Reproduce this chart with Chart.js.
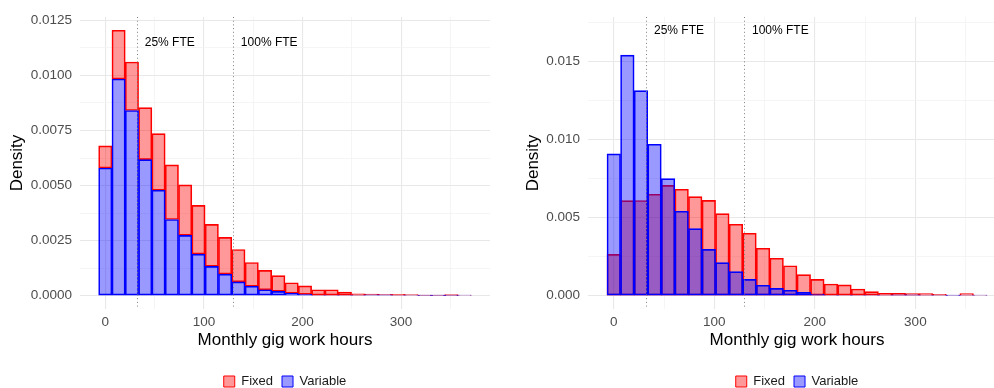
<!DOCTYPE html>
<html>
<head>
<meta charset="utf-8">
<script src="https://cdn.jsdelivr.net/npm/chart.js@4.4.1/dist/chart.umd.min.js"></script>
<style>
  body { margin: 0; background: #fff; }
  .wrap { display: flex; width: 994px; height: 388px; }
  .painel { width: 497px; height: 388px; overflow: hidden; }
</style>
</head>
<body>
<div class="wrap">
  <div class="painel"><canvas id="graficoEsq" width="497" height="388"></canvas></div>
  <div class="painel"><canvas id="graficoDir" width="512" height="388"></canvas></div>
</div>
<script>
// centros dos bins (horas)
var binCenters = [0, 13.5, 27, 40.5, 54, 67.5, 81, 94.5, 108, 121.5, 135, 148.5, 162, 175.5,
                  189, 202.5, 216, 229.5, 243, 256.5, 270, 283.5, 297, 310.5, 324, 337.5, 351, 364.5];
var binWidth = 13.5;

// painel esquerdo (empilhado): parte Variable embaixo, Fixed em cima
var leftVariable = [0.0058, 0.00984, 0.00841, 0.00618, 0.00479, 0.00346, 0.00274, 0.00189, 0.00133, 0.00098,
                    0.00063, 0.00043, 0.00027, 0.0002, 0.00011, 0.00006, 0.00003, 0.00003, 0.00003, 0.00002,
                    0.00004, 0.00004, 0.00003, 0.00002, 0.00001, 0.00001, 0.00001, 0.00002];
var leftFixed = [0.001, 0.00221, 0.0022, 0.00236, 0.00257, 0.00248, 0.00229, 0.00221, 0.00191, 0.00167,
                 0.00147, 0.00108, 0.00088, 0.00071, 0.00048, 0.00039, 0.00024, 0.00024, 0.00014, 0.00007,
                 0.00003, 0.00002, 0.00003, 0.00003, 0.00002, 0.00002, 0.00004, 0.00001];

// painel direito (sobreposto)
var rightVariable = [0.00908, 0.01541, 0.01314, 0.0097, 0.0075, 0.00541, 0.0043, 0.00297, 0.00212, 0.00154,
                     0.00105, 0.00067, 0.00047, 0.00035, 0.00022, 0.00011, 0.00004, 0.00004, 0.00004, 0.00003,
                     0.00003, 0.00006, 0.00006, 0.00003, 0.00003, 0.00002, 0.00003, 0.00003];
var rightFixed = [0.00265, 0.00609, 0.0061, 0.0065, 0.00707, 0.00682, 0.00635, 0.00611, 0.00526, 0.00458,
                  0.004, 0.00304, 0.0024, 0.00192, 0.00135, 0.00105, 0.00075, 0.0007, 0.00043, 0.00026,
                  0.00015, 0.00015, 0.00013, 0.00013, 0.00009, 0.00004, 0.00013, 0.00004];

var fteLines = [32.5, 130];
var fteLabels = ['25% FTE', '100% FTE'];
var fteLabelOffset = 7.5;

var xMajorTicks = [0, 100, 200, 300];
var xMinorTicks = [50, 150, 250, 350];
var leftYMajor = [0, 0.0025, 0.005, 0.0075, 0.01, 0.0125];
var leftYMinor = [0.00125, 0.00375, 0.00625, 0.00875, 0.01125];
var rightYMajor = [0, 0.005, 0.01, 0.015];
var rightYMinor = [0.0025, 0.0075, 0.0125, 0.0175];

var FONTE = '"Liberation Sans", Arial, Helvetica, sans-serif';
var VERMELHO = 'rgba(255,0,0,0.4)';
var AZUL = 'rgba(0,0,255,0.4)';

function isIn(v, lista) {
    for (var i = 0; i < lista.length; i++) {
        if (Math.abs(lista[i] - v) < 1e-9) return true;
    }
    return false;
}

function pontos(valores) {
    return valores.map(function(v, i) { return { x: binCenters[i], y: v }; });
}

// linhas pontilhadas + rótulos FTE
var ftePlugin = {
    id: 'fte',
    afterDatasetsDraw: function(chart, args, opts) {
        var ctx = chart.ctx, area = chart.chartArea, xs = chart.scales.x, ys = chart.scales.y;
        ctx.save();
        ctx.strokeStyle = '#7f7f7f';
        ctx.lineWidth = 1;
        ctx.setLineDash([1, 2.7]);
        fteLines.forEach(function(h) {
            var px = Math.round(xs.getPixelForValue(h)) + 0.5;
            ctx.beginPath();
            ctx.moveTo(px, area.top);
            ctx.lineTo(px, area.bottom);
            ctx.stroke();
        });
        ctx.setLineDash([]);
        ctx.fillStyle = '#000';
        ctx.font = '12px ' + FONTE;
        ctx.textAlign = 'left';
        ctx.textBaseline = 'middle';
        fteLines.forEach(function(h, i) {
            ctx.fillText(fteLabels[i], xs.getPixelForValue(h + fteLabelOffset), ys.getPixelForValue(opts.labelY));
        });
        ctx.restore();
    }
};

function montaGrafico(id, cfg) {
    var lo = binCenters[0] - binWidth / 2;
    var hi = binCenters[binCenters.length - 1] + binWidth / 2;
    var xPad = (hi - lo) * 0.05;

    var topo = cfg.labelY;
    for (var i = 0; i < binCenters.length; i++) {
        var t = cfg.stacked ? cfg.variable[i] + cfg.fixed[i] : Math.max(cfg.variable[i], cfg.fixed[i]);
        if (t > topo) topo = t;
    }
    var yPad = topo * 0.05;

    var ctx = document.getElementById(id).getContext('2d');
    return new Chart(ctx, {
        type: 'bar',
        data: {
            datasets: [{
                label: 'Variable',
                data: pontos(cfg.variable),
                backgroundColor: AZUL,
                borderColor: 'rgb(0,0,255)',
                borderWidth: 1,
                borderSkipped: false,
                grouped: false,
                barPercentage: 1,
                categoryPercentage: 1
            }, {
                label: 'Fixed',
                data: pontos(cfg.fixed),
                backgroundColor: VERMELHO,
                borderColor: 'rgb(255,0,0)',
                borderWidth: 1,
                borderSkipped: false,
                grouped: false,
                barPercentage: 1,
                categoryPercentage: 1
            }]
        },
        options: {
            responsive: false,
            animation: false,
            devicePixelRatio: 1,
            layout: { padding: { top: 17, right: cfg.padRight, bottom: 0, left: 0 } },
            plugins: {
                legend: {
                    position: 'bottom',
                    fullSize: false,
                    reverse: true,
                    maxHeight: 22,
                    labels: {
                        boxWidth: 11,
                        boxHeight: 11,
                        padding: 9,
                        color: '#1a1a1a',
                        font: { size: 13, family: FONTE }
                    }
                },
                tooltip: { enabled: false },
                fte: { labelY: cfg.labelY }
            },
            scales: {
                x: {
                    type: 'linear',
                    stacked: cfg.stacked,
                    offset: false,
                    min: lo - xPad,
                    max: hi + xPad,
                    afterBuildTicks: function(s) {
                        s.ticks = xMajorTicks.concat(xMinorTicks).sort(function(a, b) { return a - b; })
                            .map(function(v) { return { value: v }; });
                    },
                    afterFit: function(s) { s.height = 57; },
                    grid: {
                        offset: false,
                        drawTicks: false,
                        color: function(c) { return isIn(c.tick.value, xMajorTicks) ? '#e8e8e8' : '#f3f3f3'; },
                        lineWidth: function(c) { return isIn(c.tick.value, xMajorTicks) ? 1.1 : 0.8; }
                    },
                    border: { display: false },
                    ticks: {
                        autoSkip: false,
                        maxRotation: 0,
                        padding: 5,
                        color: '#4d4d4d',
                        font: { size: 13.5, family: FONTE },
                        callback: function(v) { return isIn(v, xMajorTicks) ? String(v) : ''; }
                    },
                    title: {
                        display: true,
                        text: 'Monthly gig work hours',
                        color: '#000',
                        font: { size: 17, family: FONTE },
                        padding: { top: 0, bottom: 15 }
                    }
                },
                y: {
                    type: 'linear',
                    stacked: cfg.stacked,
                    min: -yPad,
                    max: topo + yPad,
                    afterBuildTicks: function(s) {
                        s.ticks = cfg.yMajor.concat(cfg.yMinor).sort(function(a, b) { return a - b; })
                            .map(function(v) { return { value: v }; });
                    },
                    afterFit: function(s) { s.width = cfg.yWidth; },
                    grid: {
                        drawTicks: false,
                        color: function(c) { return isIn(c.tick.value, cfg.yMajor) ? '#e8e8e8' : '#f3f3f3'; },
                        lineWidth: function(c) { return isIn(c.tick.value, cfg.yMajor) ? 1.1 : 0.8; }
                    },
                    border: { display: false },
                    ticks: {
                        autoSkip: false,
                        padding: cfg.yTickPad,
                        color: '#4d4d4d',
                        font: { size: 13.5, family: FONTE },
                        callback: function(v) { return isIn(v, cfg.yMajor) ? v.toFixed(cfg.decimals) : ''; }
                    },
                    title: {
                        display: true,
                        text: 'Density',
                        color: '#000',
                        font: { size: 17, family: FONTE },
                        padding: { top: cfg.yTitlePad, bottom: 0 }
                    }
                }
            }
        },
        plugins: [ftePlugin]
    });
}

var graficoEsq = montaGrafico('graficoEsq', {
    stacked: true,
    variable: leftVariable,
    fixed: leftFixed,
    labelY: 0.0115,
    yMajor: leftYMajor,
    yMinor: leftYMinor,
    decimals: 4,
    yWidth: 80,
    yTickPad: 8,
    yTitlePad: 7,
    padRight: 7
});

var graficoDir = montaGrafico('graficoDir', {
    stacked: false,
    variable: rightVariable,
    fixed: rightFixed,
    labelY: 0.017,
    yMajor: rightYMajor,
    yMinor: rightYMinor,
    decimals: 3,
    yWidth: 91,
    yTickPad: 8,
    yTitlePad: 26,
    padRight: 3
});
</script>
</body>
</html>
